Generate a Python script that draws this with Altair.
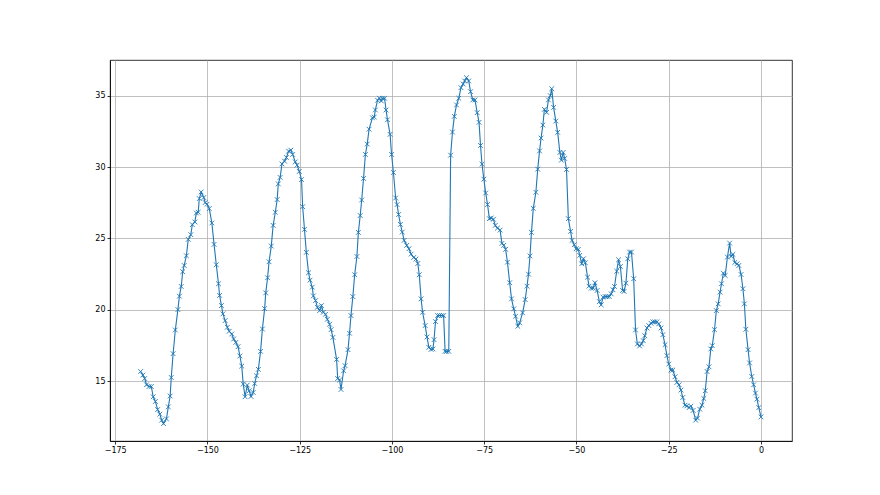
import altair as alt
import pandas as pd

x_vals = [
    -168.1, -167.5, -167.0, -166.5, -165.8, -165.2, -164.7, -164.1, -163.5, -162.9,
    -162.4, -161.9, -161.1, -160.6, -160.1, -159.8, -159.3, -158.7, -158.0, -157.6,
    -157.1, -156.7, -156.3, -155.7, -155.2, -154.5, -154.1, -153.4, -153.0, -152.5,
    -152.2, -151.7, -151.0, -150.6, -150.1, -149.5, -148.8, -148.2, -147.6, -147.0,
    -146.7, -146.2, -145.8, -145.2, -144.6, -144.1, -143.4, -142.9, -142.3, -141.7,
    -141.2, -140.7, -140.3, -139.8, -139.2, -138.7, -138.2, -137.6, -137.2, -136.7,
    -136.2, -135.6, -135.1, -134.5, -134.2, -133.7, -133.3, -132.7, -132.2, -131.6,
    -131.1, -130.8, -130.3, -129.8, -129.1, -128.6, -128.0, -127.4, -126.9, -126.2,
    -125.7, -125.1, -124.5, -124.2, -123.7, -123.2, -122.6, -122.2, -121.6, -121.3,
    -120.7, -120.2, -119.6, -119.1, -118.6, -118.0, -117.5, -116.9, -116.5, -116.0,
    -115.0, -114.7, -114.2, -113.8, -113.1, -112.7, -111.9, -111.5, -111.1, -110.6,
    -110.1, -109.5, -109.1, -108.6, -108.2, -107.7, -107.2, -106.7, -106.2, -105.3,
    -104.8, -104.5, -103.9, -103.4, -102.9, -102.6, -102.0, -101.6, -101.2, -100.5,
    -100.1, -99.6, -99.0, -98.6, -98.2, -97.7, -97.2, -96.7, -96.0, -95.4,
    -94.8, -94.1, -93.5, -93.0, -92.6, -92.1, -91.7, -91.0, -90.5, -90.0,
    -89.4, -88.9, -88.6, -88.2, -87.6, -87.1, -86.5, -86.0, -85.6, -85.2,
    -84.6, -84.1, -83.6, -83.1, -82.5, -81.9, -81.3, -80.7, -80.3, -79.8,
    -79.2, -78.7, -78.1, -77.5, -76.9, -76.4, -76.0, -75.6, -75.1, -74.6,
    -74.1, -73.6, -73.1, -72.5, -72.0, -71.4, -70.7, -70.2, -69.7, -69.2,
    -68.7, -68.1, -67.6, -67.0, -66.5, -65.9, -65.4, -64.6, -63.9, -63.4,
    -63.0, -62.6, -62.2, -61.7, -61.0, -60.5, -60.0, -59.6, -59.1, -58.7,
    -58.1, -57.6, -57.1, -56.7, -56.2, -55.6, -55.1, -54.5, -54.1, -53.6,
    -53.2, -52.7, -52.2, -51.6, -51.2, -50.6, -50.1, -49.5, -49.1, -48.6,
    -48.1, -47.6, -47.0, -46.6, -46.0, -45.5, -45.0, -44.4, -43.8, -43.3,
    -42.8, -42.2, -41.7, -41.1, -40.6, -40.1, -39.7, -39.1, -38.6, -38.1,
    -37.5, -37.1, -36.6, -36.1, -35.6, -35.1, -34.5, -34.0, -33.5, -32.9,
    -32.4, -31.9, -31.5, -30.9, -30.4, -29.8, -29.3, -28.8, -28.2, -27.7,
    -27.1, -26.6, -26.0, -25.5, -25.0, -24.4, -23.9, -23.3, -22.8, -22.2,
    -21.7, -21.2, -20.6, -20.1, -19.5, -19.0, -18.4, -17.7, -17.2, -16.6,
    -16.0, -15.5, -15.1, -14.6, -14.1, -13.6, -13.2, -12.6, -12.1, -11.6,
    -11.1, -10.7, -10.2, -9.7, -9.1, -8.5, -8.1, -7.6, -7.1, -6.5,
    -6.0, -5.4, -4.9, -4.5, -4.1, -3.5, -3.1, -2.5, -2.0, -1.5,
    -1.1, -0.6, 0.0,
]

y_vals = [
    15.67, 15.42, 15.18, 14.74, 14.62, 14.62, 13.90, 13.57, 13.00, 12.68,
    12.26, 12.02, 12.35, 13.19, 13.95, 15.25, 16.92, 18.58, 20.01, 20.95,
    21.63, 22.66, 23.10, 23.78, 24.93, 25.26, 25.96, 26.15, 26.78, 26.83,
    27.79, 28.25, 27.86, 27.51, 27.39, 27.09, 26.08, 24.58, 23.15, 21.82,
    21.00, 20.29, 19.71, 19.24, 18.77, 18.49, 18.30, 17.95, 17.71, 17.41,
    16.76, 16.05, 14.79, 13.90, 14.72, 14.32, 13.92, 14.20, 14.83, 15.37,
    15.82, 17.08, 18.65, 20.08, 21.18, 22.24, 23.36, 24.46, 25.91, 26.83,
    27.72, 28.82, 29.27, 30.22, 30.41, 30.67, 31.11, 31.18, 30.88, 30.36,
    30.13, 29.69, 29.12, 27.22, 25.63, 24.02, 22.59, 22.07, 21.58, 20.97,
    20.64, 20.17, 19.94, 20.29, 19.82, 19.68, 19.33, 18.98, 18.60, 18.06,
    16.52, 15.18, 15.07, 14.41, 15.72, 16.08, 17.20, 18.35, 19.59, 20.92,
    22.45, 23.73, 25.42, 26.60, 27.69, 29.20, 30.88, 31.61, 32.65, 33.45,
    33.50, 34.00, 34.68, 34.82, 34.63, 34.82, 34.82, 34.00, 33.31, 32.29,
    30.88, 29.62, 27.83, 27.37, 26.67, 25.98, 25.44, 24.86, 24.51, 24.27,
    23.90, 23.66, 23.55, 23.24, 22.45, 20.76, 19.82, 18.89, 18.09, 17.36,
    17.22, 17.25, 17.90, 19.17, 19.59, 19.59, 19.59, 19.59, 17.08, 17.08,
    17.08, 30.83, 32.45, 33.55, 34.35, 34.82, 35.56, 35.82, 36.03, 36.26,
    36.03, 35.28, 34.70, 34.70, 33.81, 33.13, 31.51, 30.20, 29.15, 28.18,
    27.37, 26.38, 26.43, 26.34, 25.91, 25.72, 25.58, 24.65, 24.51, 24.23,
    23.33, 21.89, 20.76, 20.06, 19.54, 18.84, 19.08, 19.78, 20.71, 21.65,
    22.49, 23.77, 25.42, 27.10, 28.23, 29.85, 31.13, 32.03, 32.94, 34.04,
    33.83, 34.70, 35.00, 35.49, 34.18, 33.22, 32.43, 31.02, 30.48, 31.02,
    30.60, 29.83, 26.38, 25.49, 24.86, 24.56, 24.27, 24.23, 23.81, 23.22,
    23.57, 23.29, 22.28, 21.65, 21.51, 21.51, 21.89, 21.35, 20.57, 20.34,
    20.88, 20.92, 20.92, 20.92, 21.11, 21.40, 21.63, 22.70, 23.50, 23.03,
    21.35, 21.28, 21.86, 23.57, 24.04, 24.04, 22.17, 18.58, 17.60, 17.46,
    17.60, 17.83, 18.18, 18.72, 18.89, 19.05, 19.15, 19.15, 19.15, 19.01,
    18.72, 18.25, 17.55, 16.78, 16.19, 15.77, 15.77, 15.30, 14.90, 14.74,
    14.37, 13.85, 13.31, 13.26, 13.14, 13.24, 12.94, 12.26, 12.40, 13.03,
    13.31, 13.78, 14.32, 15.67, 16.00, 17.25, 17.48, 18.60, 19.94, 20.41,
    21.23, 21.82, 22.56, 22.40, 23.69, 24.67, 23.74, 23.88, 23.31, 23.22,
    23.10, 22.47, 21.47, 20.41, 18.63, 17.20, 16.27, 15.32, 14.74, 14.16,
    13.73, 13.14, 12.49,
]

x_ticks = [-175, -150, -125, -100, -75, -50, -25, 0]
y_ticks = [15, 20, 25, 30, 35]

df = pd.DataFrame({"x": x_vals, "y": y_vals})

blue = "#1f77b4"

x_enc = alt.X(
    "x:Q",
    scale=alt.Scale(domain=[-176.4, 8.4], nice=False, zero=False),
    axis=alt.Axis(values=x_ticks, title=None, format="d"),
)
y_enc = alt.Y(
    "y:Q",
    scale=alt.Scale(domain=[10.8, 37.5], nice=False, zero=False),
    axis=alt.Axis(values=y_ticks, title=None, format="d"),
)

line = alt.Chart(df).mark_line(color=blue, strokeWidth=1.1).encode(x=x_enc, y=y_enc)
pts = alt.Chart(df).mark_point(
    shape="M-1,-1L1,1M-1,1L1,-1",
    filled=False,
    color=blue,
    strokeWidth=0.9,
    size=22,
    opacity=1,
).encode(x=x_enc, y=y_enc)

chart = (
    alt.layer(line, pts)
    .properties(
        width=682,
        height=381,
        padding={"left": 102, "top": 52, "right": 80, "bottom": 46},
        autosize=alt.AutoSizeParams(type="none"),
        background="white",
    )
    .configure_view(stroke="black", strokeWidth=0.8)
    .configure_axis(
        domainColor="black",
        domainWidth=0.8,
        tickColor="black",
        tickSize=3,
        tickWidth=0.8,
        labelFont="DejaVu Sans",
        labelFontSize=8,
        labelColor="black",
        labelPadding=2,
        grid=True,
        gridColor="#b0b0b0",
        gridWidth=0.8,
    )
)

chart.save("out.html", embed_options={"renderer": "svg", "actions": False})
